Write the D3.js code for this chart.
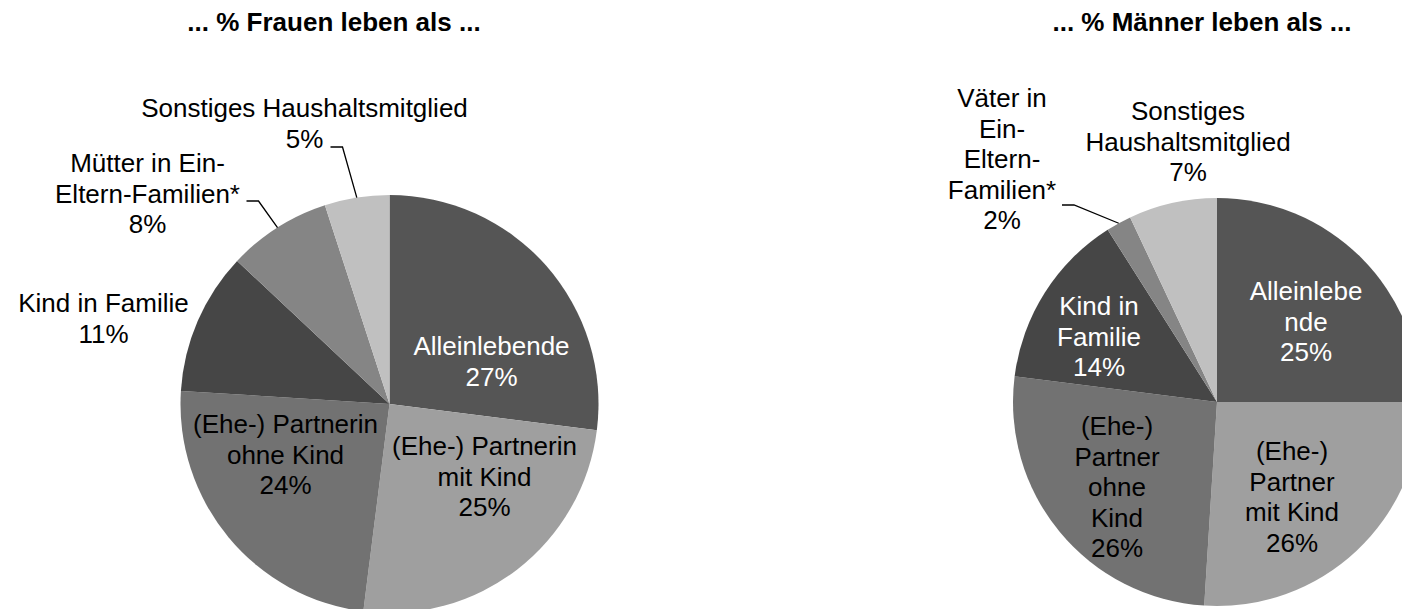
<!DOCTYPE html>
<html>
<head>
<meta charset="utf-8">
<script src="https://cdn.jsdelivr.net/npm/d3@7"></script>
<style>
  body { margin: 0; background: #fff; }
  svg text { font-family: "Liberation Sans", Arial, sans-serif; }
</style>
</head>
<body>
<svg id="chart" width="1402" height="609"></svg>
<script>
// data
const womenCategories = ["Alleinlebende", "(Ehe-) Partnerin mit Kind", "(Ehe-) Partnerin ohne Kind",
  "Kind in Familie", "Mütter in Ein-Eltern-Familien*", "Sonstiges Haushaltsmitglied"];
const womenValues = [27, 25, 24, 11, 8, 5];
const womenLines = [["Alleinlebende"], ["(Ehe-) Partnerin", "mit Kind"], ["(Ehe-) Partnerin", "ohne Kind"],
  ["Kind in Familie"], ["Mütter in Ein-", "Eltern-Familien*"], ["Sonstiges Haushaltsmitglied"]];

const menCategories = ["Alleinlebende", "(Ehe-) Partner mit Kind", "(Ehe-) Partner ohne Kind",
  "Kind in Familie", "Väter in Ein-Eltern-Familien*", "Sonstiges Haushaltsmitglied"];
const menValues = [25, 26, 26, 14, 2, 7];
const menLines = [["Alleinlebe", "nde"], ["(Ehe-)", "Partner", "mit Kind"], ["(Ehe-)", "Partner", "ohne", "Kind"],
  ["Kind in", "Familie"], ["Väter in", "Ein-", "Eltern-", "Familien*"], ["Sonstiges", "Haushaltsmitglied"]];

const titles = ["... % Frauen leben als ...", "... % Männer leben als ..."];

// one grey per category, same order
const greys = ["#555555", "#9f9f9f", "#727272", "#464646", "#858585", "#c0c0c0"];
const labelColors = ["#fff", "#000", "#000", null, "#000", "#000"];

// layout: label anchor (centre x, first baseline) relative to the pie centre,
// and the start of a leader line (null = none)
const womenLayout = [
  {dx: 102, dy: -49}, {dx: 95, dy: 51}, {dx: -104, dy: 29},
  {dx: -286, dy: -92, color: "#000"}, {dx: -242, dy: -232, leader: [-143, -203]},
  {dx: -85, dy: -287, leader: [-59, -257]}
];
const menLayout = [
  {dx: 89, dy: -102}, {dx: 75, dy: 58}, {dx: -100, dy: 33},
  {dx: -118, dy: -87, color: "#fff"}, {dx: -215, dy: -295, leader: [-155, -197]},
  {dx: -29, dy: -282}
];

const svg = d3.select("#chart");
const lineH = 30.5;

function drawPie(cfg) {
  const g = svg.append("g").attr("transform", `translate(${cfg.cx},${cfg.cy})`);
  const pie = d3.pie().sort(null).value(d => d.value);
  const arc = d3.arc().innerRadius(0).outerRadius(cfg.r);
  const edge = d3.arc().innerRadius(cfg.r).outerRadius(cfg.r);

  const data = cfg.values.map((v, i) => ({value: v, cat: cfg.categories[i], lines: cfg.lines[i], i: i}));
  const arcs = pie(data);

  g.selectAll("path.slice").data(arcs).join("path")
    .attr("class", "slice")
    .attr("d", arc)
    .attr("fill", d => greys[d.data.i]);

  // leader lines: short horizontal piece then to the slice edge
  arcs.forEach(d => {
    const lay = cfg.layout[d.data.i];
    if (!lay.leader) return;
    const p = edge.centroid(d);
    const [sx, sy] = lay.leader;
    g.append("path")
      .attr("d", `M${sx},${sy}H${sx + 12}L${p[0]},${p[1]}`)
      .attr("fill", "none")
      .attr("stroke", "#000")
      .attr("stroke-width", 1.3);
  });

  arcs.forEach(d => {
    const lay = cfg.layout[d.data.i];
    const lines = d.data.lines.concat([d.data.value + "%"]);
    const t = g.append("text")
      .attr("text-anchor", "middle")
      .attr("font-size", 26)
      .attr("fill", lay.color || labelColors[d.data.i]);
    lines.forEach((ln, k) => {
      t.append("tspan").attr("x", lay.dx).attr("y", lay.dy + k * lineH).text(ln);
    });
  });

  svg.append("text")
    .attr("x", cfg.titleX)
    .attr("y", 31)
    .attr("text-anchor", "middle")
    .attr("font-size", 26)
    .attr("font-weight", "bold")
    .attr("fill", "#000")
    .text(cfg.title);
}

drawPie({cx: 389.5, cy: 404, r: 209, values: womenValues, categories: womenCategories,
  lines: womenLines, layout: womenLayout, title: titles[0], titleX: 334});
drawPie({cx: 1217, cy: 402, r: 204, values: menValues, categories: menCategories,
  lines: menLines, layout: menLayout, title: titles[1], titleX: 1202});
</script>
</body>
</html>
